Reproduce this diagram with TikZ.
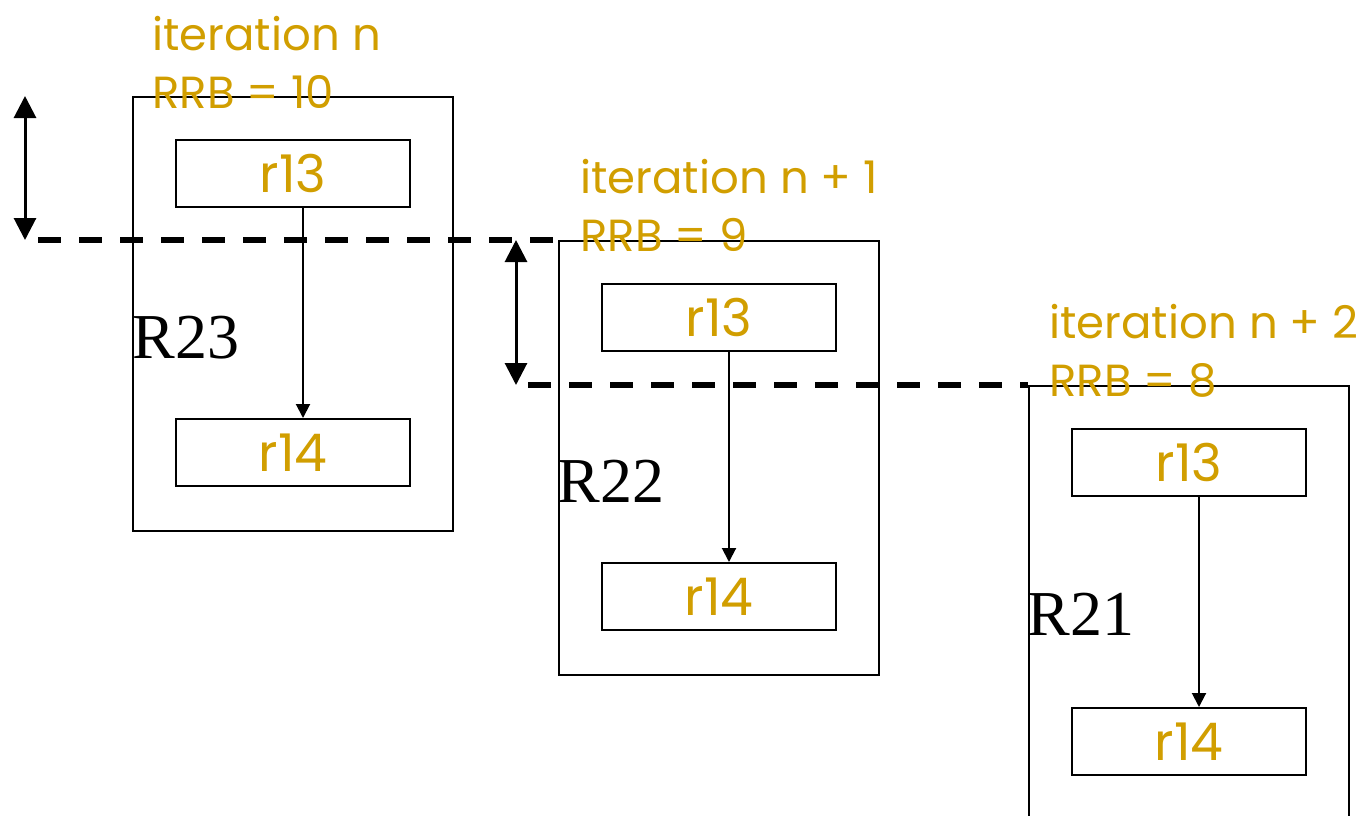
\documentclass[tikz,border=0pt]{standalone}
\usepackage{fontspec}
\setmainfont{Liberation Serif}
\newfontfamily\handfont{Poppins}
\usetikzlibrary{arrows.meta}
\definecolor{gold}{RGB}{209,158,0}

\begin{document}
\begin{tikzpicture}[x=0.5pt,y=-0.5pt]
\tikzstyle{regionbox} = [draw,line width=1pt,minimum width=160pt,minimum height=217pt,anchor=north west,inner sep=0]
\tikzstyle{reg} = [draw,line width=1pt,minimum width=117pt,minimum height=33.5pt,inner sep=0,text=gold,font=\handfont\fontsize{26}{26}\selectfont]
\tikzstyle{arrow} = [line width=1pt,->,>={Triangle[width=7pt,length=7pt]}]
\tikzstyle{darrow} = [line width=1.5pt,<->,>={Triangle[width=11pt,length=11pt]}]
\tikzstyle{cutline} = [line width=2.8pt,dash pattern=on 11.5pt off 9pt]
\tikzstyle{iter} = [anchor=base west,inner sep=0,align=left,text=gold,font=\handfont\fontsize{22.5}{29}\selectfont]
\tikzstyle{rlabel} = [anchor=base west,inner sep=0,font=\fontsize{32}{32}\selectfont]

\useasboundingbox (0,0) rectangle (1366,815);

% three unrolled iterations
\node(R23)[regionbox] at (132,96) {};
\node(R22)[regionbox] at (558,240) {};
\node(R21)[regionbox] at (1028,385) {};

\node(r13a)[reg] at ([yshift=-38.75pt]R23.north) {r13};
\node(r14a)[reg, below of=r13a, node distance=139.5pt] {r14};
\node(r13b)[reg] at ([yshift=-38.75pt]R22.north) {r13};
\node(r14b)[reg, below of=r13b, node distance=139.5pt] {r14};
\node(r13c)[reg] at ([yshift=-38.75pt]R21.north) {r13};
\node(r14c)[reg, below of=r13c, node distance=139.5pt] {r14};

\draw [arrow] ([xshift=5pt]r13a.south) -- ([xshift=5pt]r14a.north);
\draw [arrow] ([xshift=5pt]r13b.south) -- ([xshift=5pt]r14b.north);
\draw [arrow] ([xshift=5pt]r13c.south) -- ([xshift=5pt]r14c.north);

\node(t23)[rlabel] at (132,358) {R23};
\node(t22)[rlabel] at (557,502) {R22};
\node(t21)[rlabel] at (1027,635) {R21};

% base of these is the second line
\node(i23)[iter] at (152,108) {iteration n\\RRB = 10};
\node(i22)[iter] at (580,251) {iteration n + 1\\RRB = 9};
\node(i21)[iter] at (1049,396) {iteration n + 2\\RRB = 8};

% steps between the iterations
\coordinate(d1) at (38,240);
\coordinate(d2) at (528,385);
\draw [cutline] (d1) -- (R22.north west);
\draw [cutline] (d2) -- (R21.north west);

\coordinate(a1) at (25,96);
\coordinate(b1) at (25,240);
\coordinate(a2) at (516,240);
\coordinate(b2) at (516,385);
\draw [darrow] (a1) -- (b1);
\draw [darrow] (a2) -- (b2);
\end{tikzpicture}
\end{document}
